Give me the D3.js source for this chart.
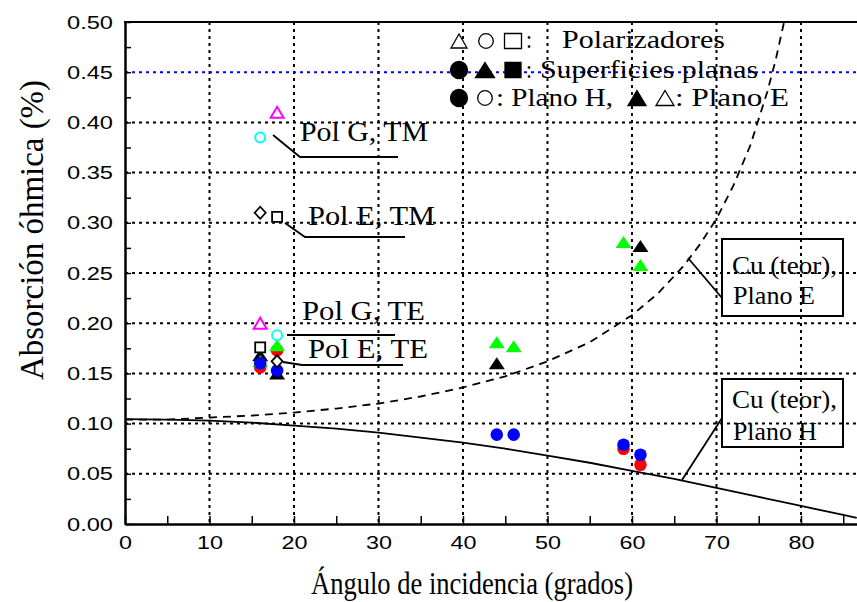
<!DOCTYPE html>
<html><head><meta charset="utf-8">
<script src="https://cdn.jsdelivr.net/npm/d3@7"></script>
<style>body{margin:0;background:#fff}svg{display:block}</style>
</head><body>
<svg id="c" width="857" height="602"></svg>
<script>
// ---------- data ----------
const xTicks = [0, 10, 20, 30, 40, 50, 60, 70, 80];
const xMinor = [5, 15, 25, 35, 45, 55, 65, 75, 85];
const yTicks = [0, 0.05, 0.10, 0.15, 0.20, 0.25, 0.30, 0.35, 0.40, 0.45, 0.50];
const yMinor = [0.025, 0.075, 0.125, 0.175, 0.225, 0.275, 0.325, 0.375, 0.425, 0.475];
const blueGrid = [0.45];

// theoretical Cu, Plano E (dashed)
const cuE_x = [0, 5, 10, 15, 20, 25, 30, 35, 40, 45, 50, 55, 60, 63, 66, 68, 70, 72, 74, 76, 77, 78];
const cuE_y = [0.104, 0.104, 0.106, 0.108, 0.111, 0.115, 0.120, 0.127, 0.136, 0.147, 0.162, 0.181, 0.208, 0.229, 0.256, 0.278, 0.304, 0.337, 0.377, 0.430, 0.462, 0.500];
// theoretical Cu, Plano H (solid)
const cuH_x = [0, 5, 10, 15, 20, 25, 30, 35, 40, 45, 50, 55, 60, 65, 70, 75, 80, 85, 86.6];
const cuH_y = [0.1045, 0.104, 0.103, 0.101, 0.098, 0.095, 0.091, 0.086, 0.081, 0.075, 0.068, 0.061, 0.053, 0.045, 0.036, 0.027, 0.018, 0.009, 0.006];

// Polarizadores (open markers)
const polTriMagenta = [{x: 16, y: 0.200}, {x: 18, y: 0.410}];
const polCircCyan   = [{x: 16, y: 0.385}, {x: 18, y: 0.188}];
const polDiamond    = [{x: 16, y: 0.310}, {x: 18, y: 0.162}];
const polSquare     = [{x: 16, y: 0.176}, {x: 18, y: 0.306}];

// Superficies planas (filled markers)
const supTriBlack  = [{x: 16, y: 0.168}, {x: 18, y: 0.150}, {x: 44, y: 0.160}, {x: 61, y: 0.277}];
const supTriGreen  = [{x: 16, y: 0.162}, {x: 18, y: 0.178}, {x: 44, y: 0.181}, {x: 46, y: 0.177}, {x: 59, y: 0.281}, {x: 61, y: 0.258}];
const supCircRed   = [{x: 16, y: 0.156}, {x: 18, y: 0.173}, {x: 59, y: 0.075}, {x: 61, y: 0.059}];
const supCircBlue  = [{x: 16, y: 0.160}, {x: 18, y: 0.153}, {x: 44, y: 0.089}, {x: 46, y: 0.089}, {x: 59, y: 0.079}, {x: 61, y: 0.069}];

// ---------- drawing ----------
const svg = d3.select("#c");
const L = 125, R = 857, T = 22, B = 524;
const x = d3.scaleLinear().domain([0, 86.63]).range([L, R]);
const y = d3.scaleLinear().domain([0, 0.5]).range([B, T]);
const SERIF = "'Liberation Serif','Times New Roman',serif";
const SANS = "'Liberation Sans',Arial,sans-serif";

svg.append("clipPath").attr("id", "clip").append("rect")
  .attr("x", L).attr("y", T).attr("width", R - L).attr("height", B - T);

// gridlines
const grid = svg.append("g").attr("clip-path", "url(#clip)");
grid.selectAll("line.vx").data(xTicks.filter(d => d > 0)).join("line")
  .attr("x1", d => x(d)).attr("x2", d => x(d)).attr("y1", T).attr("y2", B)
  .attr("stroke", "#000").attr("stroke-width", 2).attr("stroke-dasharray", "3,4");
grid.selectAll("line.hy").data(yTicks.filter(d => d > 0 && d < 0.5 && !blueGrid.includes(d))).join("line")
  .attr("x1", L).attr("x2", R).attr("y1", d => y(d)).attr("y2", d => y(d))
  .attr("stroke", "#000").attr("stroke-width", 2).attr("stroke-dasharray", "3,4");
grid.selectAll("line.hb").data(blueGrid).join("line")
  .attr("x1", L).attr("x2", R).attr("y1", d => y(d)).attr("y2", d => y(d))
  .attr("stroke", "#0000ff").attr("stroke-width", 2).attr("stroke-dasharray", "3,4");

// curves
const curves = svg.append("g").attr("clip-path", "url(#clip)");
const line = d3.line().x(d => x(d[0])).y(d => y(d[1]));
curves.append("path").datum(d3.zip(cuH_x, cuH_y)).attr("d", line)
  .attr("fill", "none").attr("stroke", "#000").attr("stroke-width", 1.8);
curves.append("path").datum(d3.zip(cuE_x, cuE_y)).attr("d", line)
  .attr("fill", "none").attr("stroke", "#000").attr("stroke-width", 1.8).attr("stroke-dasharray", "8,6");

// marker shapes
function triPath(w, h) { return `M0,${-h/2}L${w/2},${h/2}L${-w/2},${h/2}Z`; }
function diamondPath(w, h) { return `M0,${-h/2}L${w/2},0L0,${h/2}L${-w/2},0Z`; }
function squarePath(w, h) { return `M${-w/2},${-h/2}H${w/2}V${h/2}H${-w/2}Z`; }

const marks = svg.append("g");
function pts(data, shape, fill, stroke, sw) {
  const g = marks.append("g");
  g.selectAll("path").data(data).join("path")
    .attr("transform", d => `translate(${x(d.x)},${y(d.y)})`)
    .attr("d", shape).attr("fill", fill).attr("stroke", stroke).attr("stroke-width", sw);
}
function circs(data, r, fill, stroke, sw) {
  const g = marks.append("g");
  g.selectAll("circle").data(data).join("circle")
    .attr("cx", d => x(d.x)).attr("cy", d => y(d.y)).attr("r", r)
    .attr("fill", fill).attr("stroke", stroke).attr("stroke-width", sw);
}
pts(supTriBlack, triPath(16, 12), "#000", "none", 0);
circs(supCircRed, 6.3, "#ff0000", "none", 0);
pts(supTriGreen, triPath(16, 12), "#00ff00", "none", 0);
circs(supCircBlue, 6.3, "#0000ff", "none", 0);
pts(polTriMagenta, triPath(13, 11), "#fff", "#ff00ff", 2);
circs(polCircCyan, 5, "#fff", "#00ffff", 2);
pts(polDiamond, diamondPath(11, 12), "#fff", "#000", 1.8);
pts(polSquare, squarePath(10, 10), "#fff", "#000", 1.8);

// annotation text helper
function txt(s, tx, ty, size, len, fam, anchor) {
  return svg.append("text").attr("x", tx).attr("y", ty).text(s)
    .attr("font-family", fam || SERIF).attr("font-size", size)
    .attr("text-anchor", anchor || "start")
    .attr("textLength", len).attr("lengthAdjust", "spacingAndGlyphs").attr("fill", "#000");
}
function seg(pts) {
  svg.append("path").attr("d", d3.line()(pts)).attr("fill", "none")
    .attr("stroke", "#000").attr("stroke-width", 1.8);
}

// Pol labels + leaders
txt("Pol G, TM", 300, 141, 27, 128);
seg([[273, 135], [300, 157], [398, 157]]);
txt("Pol E, TM", 308, 225, 27, 127);
seg([[285, 223], [305, 237], [405, 237]]);
txt("Pol G, TE", 302, 320, 27, 123);
seg([[287, 335], [395, 335]]);
txt("Pol E, TE", 308, 358, 27, 120);
seg([[283, 362], [302, 365], [403, 365]]);

// Cu boxes
svg.append("rect").attr("x", 722).attr("y", 239).attr("width", 121).attr("height", 77)
  .attr("fill", "none").attr("stroke", "#000").attr("stroke-width", 2);
txt("Cu (teor),", 732, 274, 26, 105);
txt("Plano E", 733, 304, 26, 82);
seg([[688, 258], [722, 298]]);
svg.append("rect").attr("x", 722).attr("y", 379).attr("width", 121).attr("height", 68)
  .attr("fill", "none").attr("stroke", "#000").attr("stroke-width", 2);
txt("Cu (teor),", 732, 408, 26, 105);
txt("Plano H", 733, 440, 26, 84);
seg([[682, 480], [722, 418]]);

// legend
const leg = svg.append("g");
function lshape(cx, cy, d, fill, stroke) {
  leg.append("path").attr("transform", `translate(${cx},${cy})`).attr("d", d)
    .attr("fill", fill).attr("stroke", stroke).attr("stroke-width", 1.3);
}
function lcirc(cx, cy, r, fill) {
  leg.append("circle").attr("cx", cx).attr("cy", cy).attr("r", r)
    .attr("fill", fill).attr("stroke", "#000").attr("stroke-width", 1.3);
}
lshape(459, 41, triPath(16, 14), "#fff", "#000");
lcirc(486, 41, 7.3, "#fff");
lshape(513, 41, squarePath(17, 15), "#fff", "#000");
txt(":", 526, 48, 26, 6);
txt("Polarizadores", 562, 48, 26, 163);
lcirc(459, 70, 8.5, "#000");
lshape(485, 70, triPath(19, 15), "#000", "#000");
lshape(513, 70, squarePath(16, 15), "#000", "#000");
txt(":", 526, 78, 26, 6);
txt("Superficies planas", 540, 78, 26, 218);
lcirc(459, 98, 8.5, "#000");
lcirc(485, 98, 7.3, "#fff");
txt(": Plano H,", 496, 106, 26, 117);
lshape(637, 98, triPath(18, 15), "#000", "#000");
lshape(665, 98, triPath(18, 15), "#fff", "#000");
txt(": Plano E", 675, 106, 26, 114);

// axes
const ax = svg.append("g");
const xAxis = ax.append("g").attr("transform", `translate(0,${B})`)
  .call(d3.axisBottom(x).tickValues(xTicks).tickFormat(d3.format("d")).tickSizeInner(-8).tickSizeOuter(0).tickPadding(12));
xAxis.append("g").call(d3.axisBottom(x).tickValues(xMinor).tickFormat("").tickSizeInner(-8).tickSizeOuter(0));
const yAxis = ax.append("g").attr("transform", `translate(${L},0)`)
  .call(d3.axisLeft(y).tickValues(yTicks).tickFormat(d3.format(".2f")).tickSizeInner(-6).tickSizeOuter(0).tickPadding(12));
yAxis.append("g").call(d3.axisLeft(y).tickValues(yMinor).tickFormat("").tickSizeInner(-6).tickSizeOuter(0));
ax.selectAll(".domain").attr("stroke", "#000").attr("stroke-width", 2);
ax.selectAll(".tick line").attr("stroke", "#000").attr("stroke-width", 1.5);
xAxis.selectAll(".tick text").attr("font-family", SANS).attr("font-size", 19).attr("fill", "#000")
  .attr("lengthAdjust", "spacingAndGlyphs").attr("textLength", d => String(d).length * 13);
yAxis.selectAll(".tick text").attr("font-family", SANS).attr("font-size", 19).attr("fill", "#000")
  .attr("lengthAdjust", "spacingAndGlyphs").attr("textLength", 46);
// top frame
ax.append("line").attr("x1", L - 1).attr("x2", R).attr("y1", T).attr("y2", T)
  .attr("stroke", "#000").attr("stroke-width", 2);

// axis titles
txt("Ángulo de incidencia (grados)", 472, 594, 31, 322, SERIF, "middle");
svg.append("text").attr("transform", "translate(43,230) rotate(-90)")
  .attr("text-anchor", "middle").attr("font-family", SERIF).attr("font-size", 34)
  .attr("textLength", 300).attr("lengthAdjust", "spacingAndGlyphs").text("Absorción óhmica (%)");
</script>
</body></html>
